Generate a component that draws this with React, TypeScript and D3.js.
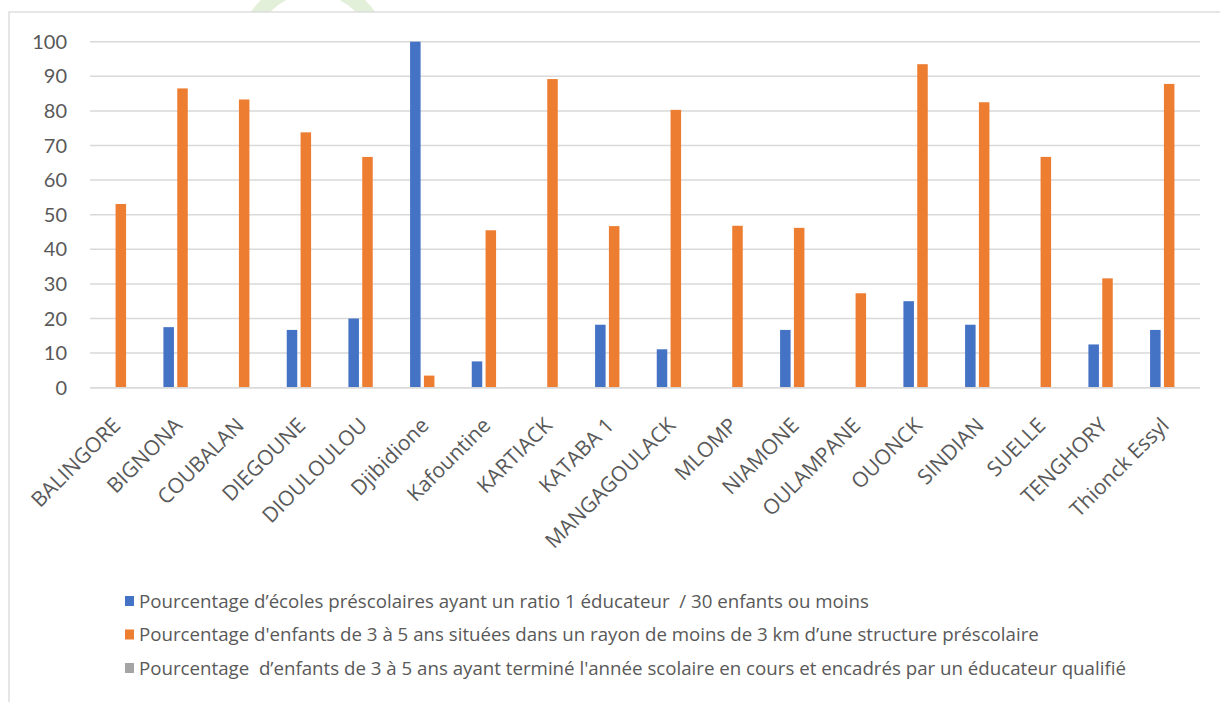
import React from "react";
import * as d3 from "d3";

const categories = [
  "BALINGORE", "BIGNONA", "COUBALAN", "DIEGOUNE", "DIOULOULOU", "Djibidione",
  "Kafountine", "KARTIACK", "KATABA 1", "MANGAGOULACK", "MLOMP", "NIAMONE",
  "OULAMPANE", "OUONCK", "SINDIAN", "SUELLE", "TENGHORY", "Thionck Essyl",
];
const ratioEducateur = [0, 17.5, 0, 16.7, 20, 100, 7.6, 0, 18.2, 11.1, 0, 16.7, 0, 25, 18.2, 0, 12.5, 16.7];
const distanceStructure = [53.1, 86.5, 83.3, 73.8, 66.7, 3.5, 45.5, 89.2, 46.7, 80.3, 46.8, 46.2, 27.3, 93.5, 82.5, 66.7, 31.6, 87.8];
const educateurQualifie = [0, 0, 0, 0, 0, 0, 0, 0, 0, 0, 0, 0, 0, 0, 0, 0, 0, 0];
const yTicks = [0, 10, 20, 30, 40, 50, 60, 70, 80, 90, 100];

const seriesNames = [
  "Pourcentage d\u2019écoles préscolaires ayant un ratio 1 éducateur  / 30 enfants ou moins",
  "Pourcentage d'enfants de 3 à 5 ans situées dans un rayon de moins de 3 km d\u2019une structure préscolaire",
  "Pourcentage  d\u2019enfants de 3 à 5 ans ayant terminé l'année scolaire en cours et encadrés par un éducateur qualifié",
];
const seriesColors = ["#4472C4", "#ED7D31", "#A5A5A5"];
const seriesValues = [ratioEducateur, distanceStructure, educateurQualifie];

const W = 1220;
const H = 702;
const plot = { left: 90, right: 1200, top: 41.7, bottom: 387.7 };
const textColor = "#595959";

export default function App() {
  const x = d3.scaleBand<string>().domain(categories).range([plot.left, plot.right]).paddingInner(0).paddingOuter(0);
  const y = d3.scaleLinear().domain([0, 100]).range([plot.bottom, plot.top]);
  const inner = d3
    .scaleBand<number>()
    .domain([0, 1, 2])
    .range([0, x.bandwidth()])
    .paddingInner(0.24)
    .paddingOuter(0.85);

  return (
    <svg
      width={W}
      height={H}
      style={{ position: "absolute", left: 0, top: 0, background: "#fff" }}
    >
      {/* faint watermark behind the chart area */}
      <circle cx={313} cy={54} r={67.5} fill="none" stroke="#e2efd9" strokeWidth={15} />
      <rect x={9} y={12} width={1240} height={720} fill="#ffffff" stroke="#d9d9d9" strokeWidth={1.3} />

      {yTicks.map((t) => (
        <g key={t}>
          <line x1={plot.left} x2={plot.right} y1={y(t)} y2={y(t)} stroke="#d9d9d9" strokeWidth={1.5} />
          <text x={67} y={y(t)} dy="0.35em" textAnchor="end" fontSize={20} fill={textColor} fontFamily="Lato, sans-serif">
            {t}
          </text>
        </g>
      ))}

      {categories.map((c, i) => (
        <g key={c}>
          {seriesValues.map((vals, s) => {
            const v = vals[i];
            if (!v) return null;
            return (
              <rect
                key={s}
                x={(x(c) as number) + (inner(s) as number)}
                y={y(v)}
                width={inner.bandwidth()}
                height={y(0) - y(v)}
                fill={seriesColors[s]}
              />
            );
          })}
        </g>
      ))}
      <line x1={plot.left} x2={plot.right} y1={y(0)} y2={y(0)} stroke="#d9d9d9" strokeWidth={1.5} />

      {categories.map((c) => {
        const cx = (x(c) as number) + x.bandwidth() / 2;
        return (
          <text
            key={c}
            transform={`translate(${cx + 1},${y(0) + 39}) rotate(-45)`}
            textAnchor="end"
            fontSize={21}
            fill={textColor}
            fontFamily="'Open Sans', sans-serif"
          >
            {c}
          </text>
        );
      })}

      {seriesNames.map((name, s) => {
        const ly = 601 + s * 33.5;
        return (
          <g key={s}>
            <rect x={125} y={ly - 5} width={9} height={10} fill={seriesColors[s]} />
            <text
              x={139}
              y={ly}
              dy="0.35em"
              fontSize={18.7}
              fill={textColor}
              fontFamily="'Open Sans', sans-serif"
              style={{ whiteSpace: "pre" }}
            >
              {name}
            </text>
          </g>
        );
      })}
    </svg>
  );
}
